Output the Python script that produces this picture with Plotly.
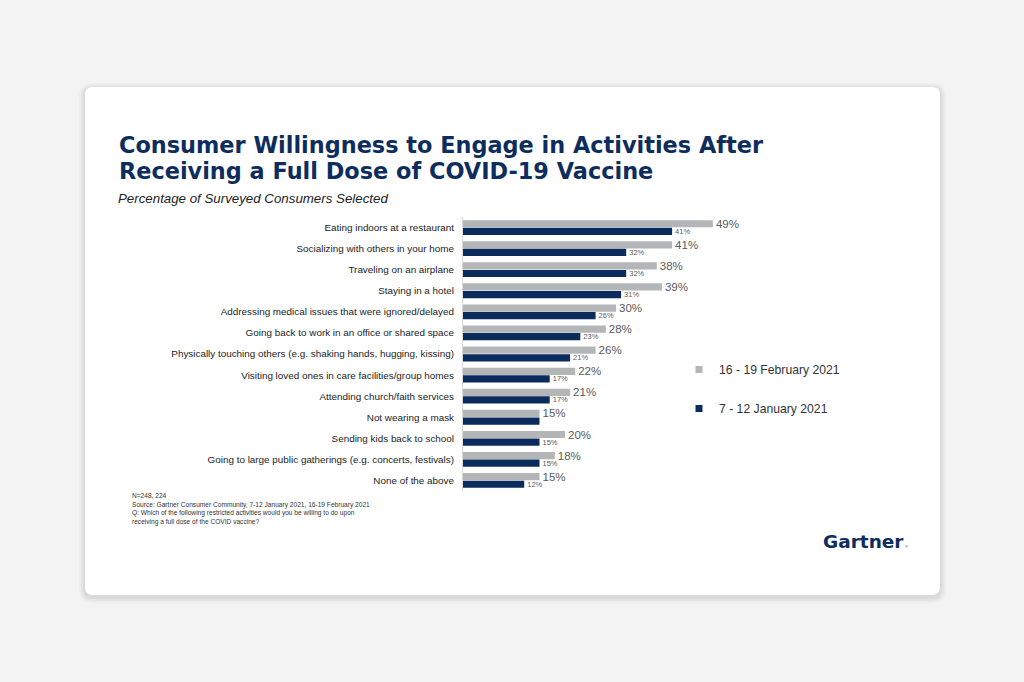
import plotly.graph_objects as go

W, H = 1024, 682

categories = [
    "Eating indoors at a restaurant",
    "Socializing with others in your home",
    "Traveling on an airplane",
    "Staying in a hotel",
    "Addressing medical issues that were ignored/delayed",
    "Going back to work in an office or shared space",
    "Physically touching others (e.g. shaking hands, hugging, kissing)",
    "Visiting loved ones in care facilities/group homes",
    "Attending church/faith services",
    "Not wearing a mask",
    "Sending kids back to school",
    "Going to large public gatherings (e.g. concerts, festivals)",
    "None of the above",
]
feb_2021 = [49, 41, 38, 39, 30, 28, 26, 22, 21, 15, 20, 18, 15]
jan_2021 = [41, 32, 32, 31, 26, 23, 21, 17, 17, 15, 15, 15, 12]
jan_label_hidden = ["Not wearing a mask"]

series_names = ["16 - 19 February 2021", "7 - 12 January 2021"]

GRAY = "#b3b5b7"
NAVY = "#0b2b5c"
TITLE_C = "#0d2d5e"
SANS = "Liberation Sans, Arial"
WIDE = "DejaVu Sans"


def px(x):
    return x / W


def py(y):
    return 1 - y / H


def rrect(x0, y0, x1, y1, r):
    pts = [
        ("M", [(x0 + r, y0)]),
        ("L", [(x1 - r, y0)]),
        ("Q", [(x1, y0), (x1, y0 + r)]),
        ("L", [(x1, y1 - r)]),
        ("Q", [(x1, y1), (x1 - r, y1)]),
        ("L", [(x0 + r, y1)]),
        ("Q", [(x0, y1), (x0, y1 - r)]),
        ("L", [(x0, y0 + r)]),
        ("Q", [(x0, y0), (x0 + r, y0)]),
    ]
    s = ""
    for cmd, ps in pts:
        s += cmd + " " + " ".join(f"{px(a):.5f},{py(b):.5f}" for a, b in ps) + " "
    return s + "Z"


fig = go.Figure()

fig.add_trace(go.Bar(
    y=categories, x=feb_2021, orientation="h", name=series_names[0],
    marker=dict(color=GRAY, line=dict(width=0)),
    text=[f"{v}%" for v in feb_2021], textposition="outside", constraintext="none",
    textfont=dict(size=11.5, color="#5a5a5a", family=SANS),
    cliponaxis=False, showlegend=False,
))
fig.add_trace(go.Bar(
    y=categories, x=jan_2021, orientation="h", name=series_names[1],
    marker=dict(color=NAVY, line=dict(width=0)),
    text=["" if c in jan_label_hidden else f"{v}%" for c, v in zip(categories, jan_2021)],
    textposition="outside", constraintext="none",
    textfont=dict(size=7.5, color="#5a5a5a", family=SANS),
    cliponaxis=False, showlegend=False,
))

# legend entries with small square markers
for name, col in zip(series_names, [GRAY, NAVY]):
    fig.add_trace(go.Scatter(
        x=[None], y=[None], mode="markers", name=name, legendgroup=name,
        marker=dict(symbol="square", size=7, color=col),
    ))

shapes = []
for off, op in [(6, 0.025), (4, 0.035), (2, 0.045)]:
    shapes.append(dict(type="path", xref="paper", yref="paper",
                       path=rrect(85 - off, 87 - off + 2, 940 + off, 595 + off + 2, 8 + off),
                       fillcolor=f"rgba(0,0,0,{op})", line=dict(width=0), layer="below"))
shapes.append(dict(type="path", xref="paper", yref="paper",
                   path=rrect(85, 87, 940, 595, 8),
                   fillcolor="white", line=dict(width=0), layer="below"))

title_lines = ["Consumer Willingness to Engage in Activities After",
               "Receiving a Full Dose of COVID-19 Vaccine"]

annotations = []
for line, yc in zip(title_lines, [145, 171]):
    annotations.append(dict(
        x=px(117), y=py(yc), xref="paper", yref="paper", xanchor="left", yanchor="middle",
        showarrow=False, text=f"<b>{line}</b>",
        font=dict(size=22.4, color=TITLE_C, family=WIDE)))

annotations += [
    dict(x=px(116), y=py(199), xref="paper", yref="paper", xanchor="left", yanchor="middle",
         showarrow=False, text="<i>Percentage of Surveyed Consumers Selected</i>",
         font=dict(size=13.3, color="#222222", family=SANS)),
    dict(x=px(130), y=py(490), xref="paper", yref="paper", xanchor="left", yanchor="top",
         align="left", showarrow=False,
         text=("N=248, 224<br>Source: Gartner Consumer Community, 7-12 January 2021, 16-19 February 2021<br>"
               "Q: Which of the following restricted activities would you be willing to do upon<br>"
               "receiving a full dose of the COVID vaccine?"),
         font=dict(size=6.6, color="#333333", family=SANS)),
    dict(x=px(906), y=py(541), xref="paper", yref="paper", xanchor="right", yanchor="middle",
         showarrow=False, text="<b>Gartner</b>",
         font=dict(size=18.5, color=TITLE_C, family=WIDE)),
    dict(x=px(903), y=py(546), xref="paper", yref="paper", xanchor="left", yanchor="middle",
         showarrow=False, text="®",
         font=dict(size=4, color=TITLE_C, family=SANS)),
]

fig.update_layout(
    width=W, height=H,
    margin=dict(l=0, r=0, t=0, b=0),
    paper_bgcolor="#f3f3f3",
    plot_bgcolor="rgba(0,0,0,0)",
    barmode="group", bargap=0.28, bargroupgap=0.05,
    shapes=shapes, annotations=annotations,
    font=dict(family=SANS, color="#222222"),
    xaxis=dict(domain=[px(463), px(769)], range=[0, 60], visible=False, fixedrange=True),
    yaxis=dict(domain=[py(491), py(217)], autorange="reversed", type="category",
               showline=True, linecolor="#d9d9d9", linewidth=1, ticks="",
               ticklabelstandoff=6, showgrid=False, fixedrange=True,
               tickfont=dict(size=9.9, color="#222222", family=SANS)),
    legend=dict(x=px(679), y=py(355), xanchor="left", yanchor="top",
                bgcolor="rgba(0,0,0,0)", tracegroupgap=20, itemwidth=30,
                font=dict(size=12.2, color="#333333", family=SANS)),
    showlegend=True,
)

fig.write_html(
    "out.html",
    config={"displayModeBar": False},
    post_script="document.body.style.margin='0';document.body.style.overflow='hidden';"
                "document.body.style.background='#f3f3f3';",
)
